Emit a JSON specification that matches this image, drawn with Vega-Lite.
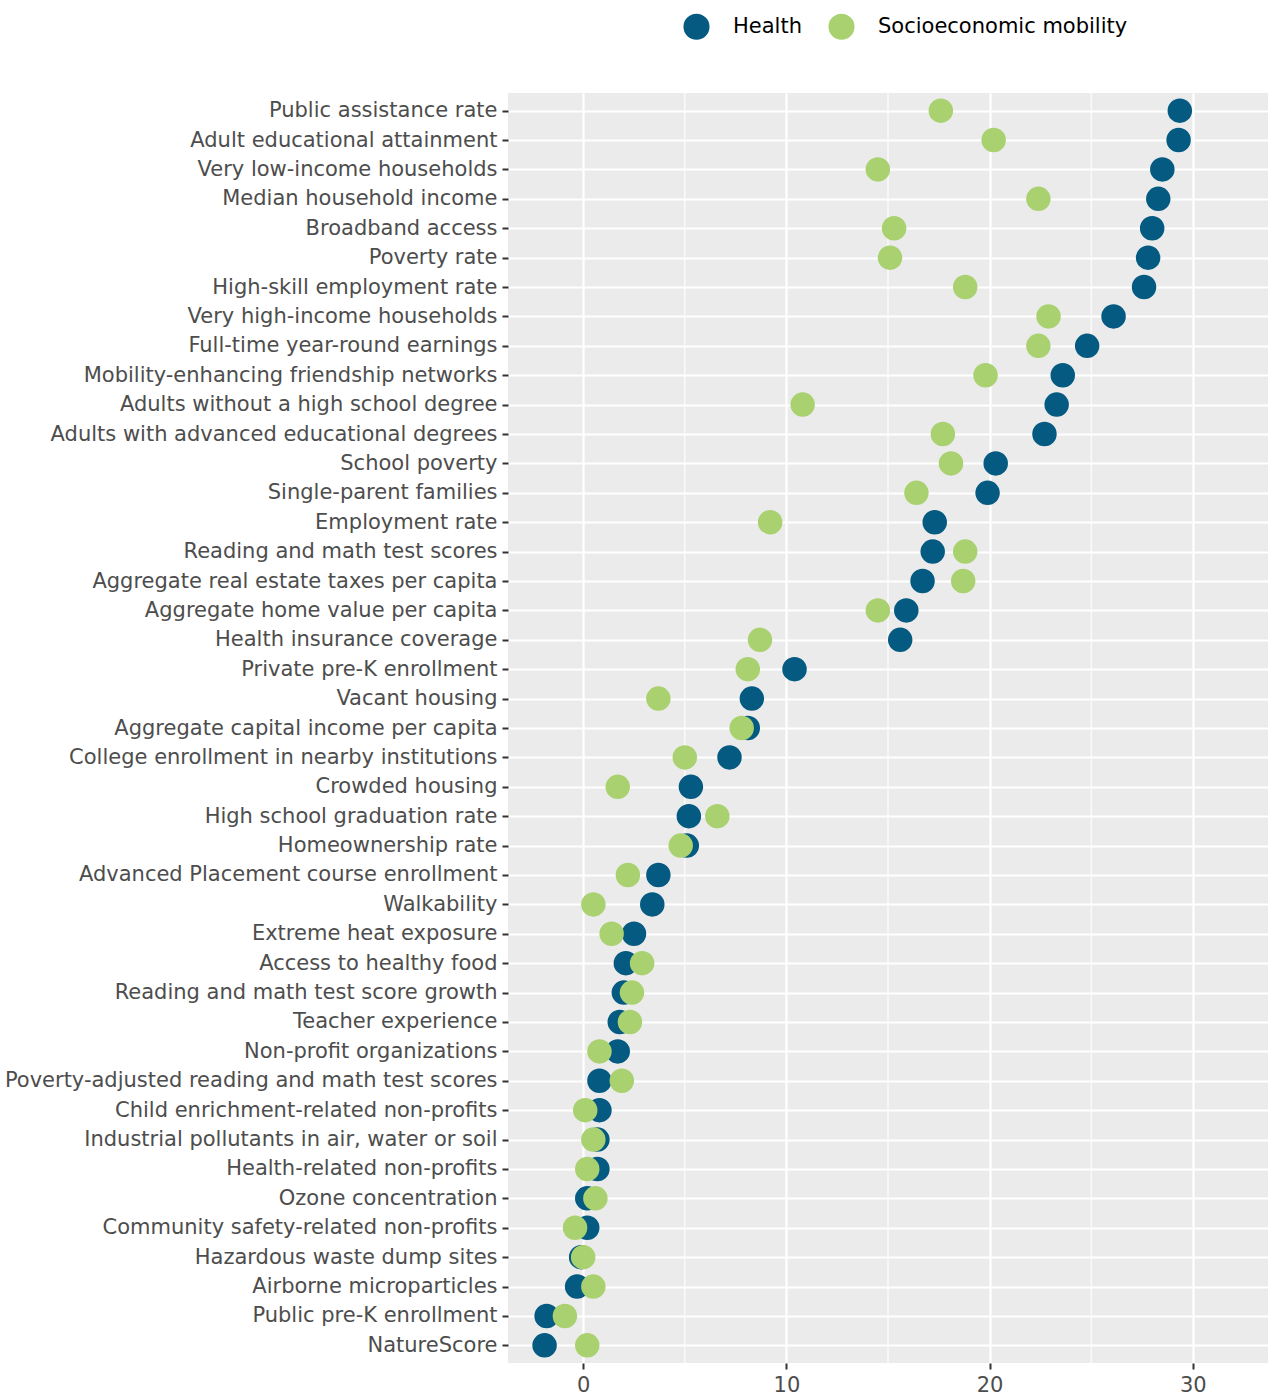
{
  "$schema": "https://vega.github.io/schema/vega-lite/v6.json",
  "autosize": "none",
  "width": 760,
  "height": 1270,
  "padding": {"left": 508, "top": 93, "right": 2, "bottom": 34},
  "background": "white",
  "config": {
    "view": {"fill": "#EBEBEB", "stroke": null},
    "font": "DejaVu Sans"
  },
  "datasets": {
    "minor": [{"v": 5}, {"v": 15}, {"v": 25}],
    "pts": [
      {"m": "Public assistance rate", "g": "Health", "v": 29.36},
      {"m": "Public assistance rate", "g": "Socioeconomic mobility", "v": 17.6},
      {"m": "Adult educational attainment", "g": "Health", "v": 29.3},
      {"m": "Adult educational attainment", "g": "Socioeconomic mobility", "v": 20.2},
      {"m": "Very low-income households", "g": "Health", "v": 28.5},
      {"m": "Very low-income households", "g": "Socioeconomic mobility", "v": 14.5},
      {"m": "Median household income", "g": "Health", "v": 28.3},
      {"m": "Median household income", "g": "Socioeconomic mobility", "v": 22.4},
      {"m": "Broadband access", "g": "Health", "v": 28.0},
      {"m": "Broadband access", "g": "Socioeconomic mobility", "v": 15.3},
      {"m": "Poverty rate", "g": "Health", "v": 27.8},
      {"m": "Poverty rate", "g": "Socioeconomic mobility", "v": 15.1},
      {"m": "High-skill employment rate", "g": "Health", "v": 27.6},
      {"m": "High-skill employment rate", "g": "Socioeconomic mobility", "v": 18.8},
      {"m": "Very high-income households", "g": "Health", "v": 26.1},
      {"m": "Very high-income households", "g": "Socioeconomic mobility", "v": 22.9},
      {"m": "Full-time year-round earnings", "g": "Health", "v": 24.8},
      {"m": "Full-time year-round earnings", "g": "Socioeconomic mobility", "v": 22.4},
      {"m": "Mobility-enhancing friendship networks", "g": "Health", "v": 23.6},
      {"m": "Mobility-enhancing friendship networks", "g": "Socioeconomic mobility", "v": 19.8},
      {"m": "Adults without a high school degree", "g": "Health", "v": 23.3},
      {"m": "Adults without a high school degree", "g": "Socioeconomic mobility", "v": 10.8},
      {"m": "Adults with advanced educational degrees", "g": "Health", "v": 22.7},
      {"m": "Adults with advanced educational degrees", "g": "Socioeconomic mobility", "v": 17.7},
      {"m": "School poverty", "g": "Health", "v": 20.3},
      {"m": "School poverty", "g": "Socioeconomic mobility", "v": 18.1},
      {"m": "Single-parent families", "g": "Health", "v": 19.9},
      {"m": "Single-parent families", "g": "Socioeconomic mobility", "v": 16.4},
      {"m": "Employment rate", "g": "Health", "v": 17.3},
      {"m": "Employment rate", "g": "Socioeconomic mobility", "v": 9.2},
      {"m": "Reading and math test scores", "g": "Health", "v": 17.2},
      {"m": "Reading and math test scores", "g": "Socioeconomic mobility", "v": 18.8},
      {"m": "Aggregate real estate taxes per capita", "g": "Health", "v": 16.7},
      {"m": "Aggregate real estate taxes per capita", "g": "Socioeconomic mobility", "v": 18.7},
      {"m": "Aggregate home value per capita", "g": "Health", "v": 15.9},
      {"m": "Aggregate home value per capita", "g": "Socioeconomic mobility", "v": 14.5},
      {"m": "Health insurance coverage", "g": "Health", "v": 15.6},
      {"m": "Health insurance coverage", "g": "Socioeconomic mobility", "v": 8.7},
      {"m": "Private pre-K enrollment", "g": "Health", "v": 10.4},
      {"m": "Private pre-K enrollment", "g": "Socioeconomic mobility", "v": 8.1},
      {"m": "Vacant housing", "g": "Health", "v": 8.3},
      {"m": "Vacant housing", "g": "Socioeconomic mobility", "v": 3.7},
      {"m": "Aggregate capital income per capita", "g": "Health", "v": 8.1},
      {"m": "Aggregate capital income per capita", "g": "Socioeconomic mobility", "v": 7.8},
      {"m": "College enrollment in nearby institutions", "g": "Health", "v": 7.2},
      {"m": "College enrollment in nearby institutions", "g": "Socioeconomic mobility", "v": 5.0},
      {"m": "Crowded housing", "g": "Health", "v": 5.3},
      {"m": "Crowded housing", "g": "Socioeconomic mobility", "v": 1.7},
      {"m": "High school graduation rate", "g": "Health", "v": 5.2},
      {"m": "High school graduation rate", "g": "Socioeconomic mobility", "v": 6.6},
      {"m": "Homeownership rate", "g": "Health", "v": 5.1},
      {"m": "Homeownership rate", "g": "Socioeconomic mobility", "v": 4.8},
      {"m": "Advanced Placement course enrollment", "g": "Health", "v": 3.7},
      {"m": "Advanced Placement course enrollment", "g": "Socioeconomic mobility", "v": 2.2},
      {"m": "Walkability", "g": "Health", "v": 3.4},
      {"m": "Walkability", "g": "Socioeconomic mobility", "v": 0.5},
      {"m": "Extreme heat exposure", "g": "Health", "v": 2.5},
      {"m": "Extreme heat exposure", "g": "Socioeconomic mobility", "v": 1.4},
      {"m": "Access to healthy food", "g": "Health", "v": 2.1},
      {"m": "Access to healthy food", "g": "Socioeconomic mobility", "v": 2.9},
      {"m": "Reading and math test score growth", "g": "Health", "v": 2.0},
      {"m": "Reading and math test score growth", "g": "Socioeconomic mobility", "v": 2.4},
      {"m": "Teacher experience", "g": "Health", "v": 1.8},
      {"m": "Teacher experience", "g": "Socioeconomic mobility", "v": 2.3},
      {"m": "Non-profit organizations", "g": "Health", "v": 1.7},
      {"m": "Non-profit organizations", "g": "Socioeconomic mobility", "v": 0.8},
      {"m": "Poverty-adjusted reading and math test scores", "g": "Health", "v": 0.8},
      {"m": "Poverty-adjusted reading and math test scores", "g": "Socioeconomic mobility", "v": 1.9},
      {"m": "Child enrichment-related non-profits", "g": "Health", "v": 0.8},
      {"m": "Child enrichment-related non-profits", "g": "Socioeconomic mobility", "v": 0.1},
      {"m": "Industrial pollutants in air, water or soil", "g": "Health", "v": 0.7},
      {"m": "Industrial pollutants in air, water or soil", "g": "Socioeconomic mobility", "v": 0.5},
      {"m": "Health-related non-profits", "g": "Health", "v": 0.7},
      {"m": "Health-related non-profits", "g": "Socioeconomic mobility", "v": 0.2},
      {"m": "Ozone concentration", "g": "Health", "v": 0.2},
      {"m": "Ozone concentration", "g": "Socioeconomic mobility", "v": 0.6},
      {"m": "Community safety-related non-profits", "g": "Health", "v": 0.2},
      {"m": "Community safety-related non-profits", "g": "Socioeconomic mobility", "v": -0.4},
      {"m": "Hazardous waste dump sites", "g": "Health", "v": -0.1},
      {"m": "Hazardous waste dump sites", "g": "Socioeconomic mobility", "v": 0.0},
      {"m": "Airborne microparticles", "g": "Health", "v": -0.3},
      {"m": "Airborne microparticles", "g": "Socioeconomic mobility", "v": 0.5},
      {"m": "Public pre-K enrollment", "g": "Health", "v": -1.8},
      {"m": "Public pre-K enrollment", "g": "Socioeconomic mobility", "v": -0.9},
      {"m": "NatureScore", "g": "Health", "v": -1.9},
      {"m": "NatureScore", "g": "Socioeconomic mobility", "v": 0.2}
    ]
  },
  "layer": [
    {
      "data": {"name": "minor"},
      "mark": {"type": "rule", "color": "white", "strokeWidth": 1.1},
      "encoding": {
        "x": {
          "field": "v", "type": "quantitative",
          "scale": {"domain": [-3.7, 33.7], "nice": false, "zero": false},
          "axis": {
            "title": null, "values": [0, 10, 20, 30], "grid": true, "gridColor": "white", "gridWidth": 2.2,
            "domain": false, "tickColor": "#333333", "tickSize": 6, "tickWidth": 2,
            "labelFontSize": 21, "labelColor": "#4D4D4D", "labelPadding": 5
          }
        }
      }
    },
    {
      "data": {"name": "pts"},
      "mark": {"type": "circle", "opacity": 1, "size": 600},
      "encoding": {
        "x": {
          "field": "v", "type": "quantitative",
          "scale": {"domain": [-3.7, 33.7], "nice": false, "zero": false}
        },
        "y": {
          "field": "m", "type": "nominal",
          "scale": {"type": "point", "padding": 0.6, "domain": [
            "Public assistance rate", "Adult educational attainment", "Very low-income households", "Median household income", "Broadband access", "Poverty rate", "High-skill employment rate", "Very high-income households", "Full-time year-round earnings", "Mobility-enhancing friendship networks", "Adults without a high school degree", "Adults with advanced educational degrees", "School poverty", "Single-parent families", "Employment rate", "Reading and math test scores", "Aggregate real estate taxes per capita", "Aggregate home value per capita", "Health insurance coverage", "Private pre-K enrollment", "Vacant housing", "Aggregate capital income per capita", "College enrollment in nearby institutions", "Crowded housing", "High school graduation rate", "Homeownership rate", "Advanced Placement course enrollment", "Walkability", "Extreme heat exposure", "Access to healthy food", "Reading and math test score growth", "Teacher experience", "Non-profit organizations", "Poverty-adjusted reading and math test scores", "Child enrichment-related non-profits", "Industrial pollutants in air, water or soil", "Health-related non-profits", "Ozone concentration", "Community safety-related non-profits", "Hazardous waste dump sites", "Airborne microparticles", "Public pre-K enrollment", "NatureScore"
          ]},
          "axis": {
            "title": null, "grid": true, "gridColor": "white", "gridWidth": 2.2,
            "domain": false, "tickColor": "#333333", "tickSize": 6, "tickWidth": 2,
            "labelFontSize": 21, "labelColor": "#4D4D4D", "labelPadding": 5, "labelLimit": 600
          }
        },
        "color": {
          "field": "g", "type": "nominal",
          "scale": {"domain": ["Health", "Socioeconomic mobility"], "range": ["#045A80", "#A9D16F"]},
          "legend": {
            "title": null, "orient": "none", "direction": "horizontal",
            "legendX": 175, "legendY": -80,
            "symbolType": "circle", "symbolSize": 680, "symbolOpacity": 1,
            "labelFontSize": 21, "labelColor": "#000000", "labelLimit": 400,
            "labelOffset": 23, "columnPadding": 26, "symbolStrokeWidth": 0
          }
        },
        "order": {"field": "g", "sort": "ascending"}
      }
    }
  ]
}
